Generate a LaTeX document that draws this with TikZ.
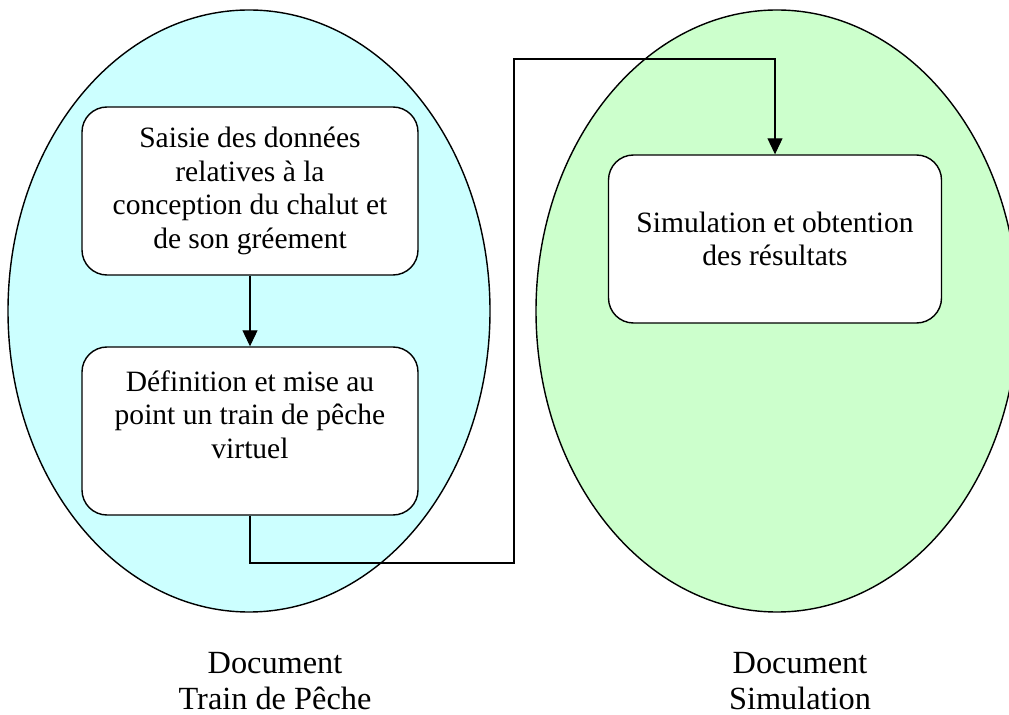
\documentclass[tikz,border=0pt]{standalone}
\usepackage{fontspec}
\setmainfont{Liberation Serif}
\usetikzlibrary{shapes.geometric,arrows.meta,positioning}

\definecolor{docblue}{RGB}{204,255,255}
\definecolor{docgreen}{RGB}{204,255,204}

\tikzset{
  doc/.style={ellipse,draw,line width=0.8pt,inner sep=0pt,
    minimum width=9.64cm,minimum height=12.04cm},
  task/.style={rectangle,rounded corners=0.5cm,draw,line width=0.8pt,fill=white,
    minimum width=6.72cm,minimum height=3.36cm,align=center,
    font=\fontsize{16.8}{19}\selectfont},
  caption/.style={align=center,font=\fontsize{18.4}{20}\selectfont},
  link/.style={line width=0.6pt,-{Triangle[length=0.32cm,width=0.3cm]}}
}

\begin{document}
\begin{tikzpicture}[node distance=4.8cm,on grid]
\useasboundingbox (0,0) rectangle (20.18,-14.3);
        \node[doc,fill=docblue] (e_1) at (4.98,-6.22) {};
        \node[doc,fill=docgreen] (e_2) at (15.54,-6.22) {};
        \node[task] (b_1) at (5.0,-3.82) {Saisie des données\\relatives à la\\conception du chalut et\\de son gréement};
        \node[task] (b_2) [below=of b_1] {Définition et mise au\\point un train de pêche\\virtuel\\~};
        \node[task,minimum width=6.66cm] (b_3) at (15.5,-4.78) {Simulation et obtention\\des résultats};
        \coordinate (c_1) at (10.28,-11.26);
        \coordinate (c_2) at (10.28,-1.18);
        \path[link] (b_1) edge (b_2);
        \draw[link] (b_2.south) |- (c_1) -- (c_2) -| (b_3.north);
        \node[caption] (l_1) at (5.5,-13.62) {Document\\Train de Pêche};
        \node[caption] (l_2) at (16.0,-13.62) {Document\\Simulation};
    \end{tikzpicture}
\end{document}
